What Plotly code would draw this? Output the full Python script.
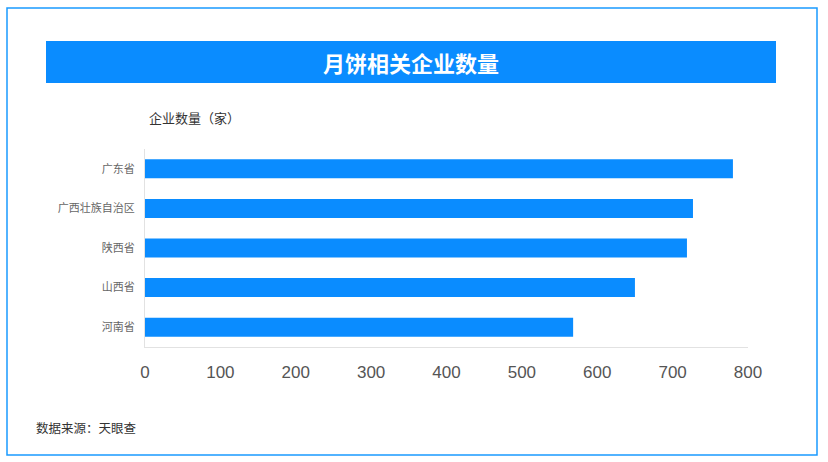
import plotly.graph_objects as go

W, H = 828, 462

provinces = ['广东省', '广西壮族自治区', '陕西省', '山西省', '河南省']
companies = [780, 727, 719, 650, 568]
x_ticks = [0, 100, 200, 300, 400, 500, 600, 700, 800]

blue = '#0a8cff'
cjk = 'Noto Sans CJK SC'


def px_x(v):
    return v / W


def px_y(v):
    return 1 - v / H


fig = go.Figure(go.Bar(
    x=companies[::-1],
    y=provinces[::-1],
    orientation='h',
    marker=dict(color=blue, line=dict(width=0)),
    width=0.48,
    hovertemplate='%{y}: %{x}<extra></extra>',
))

fig.update_layout(
    width=W, height=H,
    margin=dict(l=0, r=0, t=0, b=0, autoexpand=False),
    paper_bgcolor='white', plot_bgcolor='white',
    showlegend=False,
    xaxis=dict(domain=[px_x(145), px_x(748)], range=[0, 800], tickvals=x_ticks,
               automargin=False,
               showgrid=False, zeroline=False, showline=True, linecolor='#e2e2e2', linewidth=1,
               ticks='', ticklabelstandoff=10,
               tickfont=dict(family='Liberation Sans, Arial', size=17, color='#555555')),
    yaxis=dict(domain=[px_y(347), px_y(149)], automargin=False,
               showgrid=False, zeroline=False,
               showline=True, linecolor='#e2e2e2', linewidth=1, ticks='',
               ticklabelstandoff=7,
               tickfont=dict(family=cjk, size=11, color='#666666')),
)

# outer frame and title banner
fig.add_shape(type='rect', xref='paper', yref='paper',
              x0=px_x(7), x1=px_x(817), y0=px_y(455), y1=px_y(8),
              line=dict(color='#1a9bff', width=1.5), fillcolor='rgba(0,0,0,0)')
fig.add_shape(type='rect', xref='paper', yref='paper',
              x0=px_x(46), x1=px_x(776), y0=px_y(83), y1=px_y(41),
              line=dict(width=0), fillcolor=blue, layer='below')

fig.add_annotation(text='<b>月饼相关企业数量</b>', xref='paper', yref='paper',
                   x=px_x(411), y=px_y(62), xanchor='center', yanchor='middle',
                   showarrow=False, font=dict(family=cjk, size=22, color='white'))
fig.add_annotation(text='企业数量（家）', xref='paper', yref='paper',
                   x=px_x(147), y=px_y(117), xanchor='left', yanchor='middle',
                   showarrow=False, font=dict(family=cjk, size=13, color='#333333'))
fig.add_annotation(text='数据来源：天眼查', xref='paper', yref='paper',
                   x=px_x(34), y=px_y(427), xanchor='left', yanchor='middle',
                   showarrow=False, font=dict(family=cjk, size=12.5, color='#333333'))

# drop the default body margin so the 828x462 figure fills the window exactly
fig.write_html('out.html', config={'displayModeBar': False},
               post_script="document.body.style.margin='0';")
